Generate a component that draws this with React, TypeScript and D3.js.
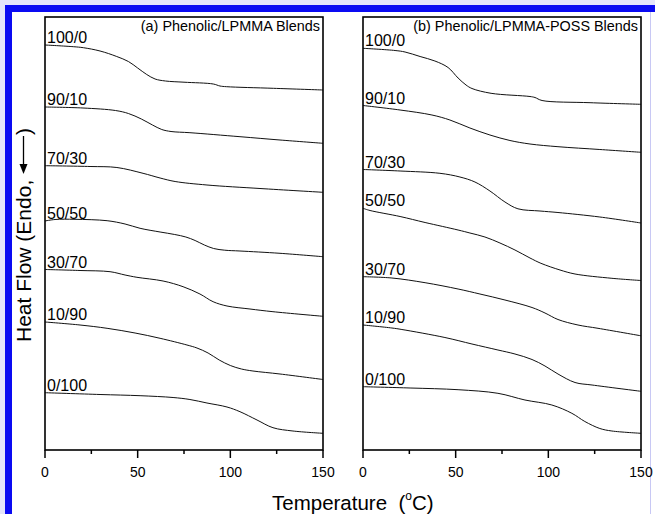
import React from "react";
import * as d3 from "d3";

// ---------- data (temperature °C, heat flow arbitrary units) ----------
const tempTicks = [0, 50, 100, 150];
const tempMinorTicks = [25, 75, 125];
const blendLabels = ["100/0", "90/10", "70/30", "50/50", "30/70", "10/90", "0/100"];
const panelTitles = ["(a) Phenolic/LPMMA Blends", "(b) Phenolic/LPMMA-POSS Blends"];

// Panel (a) Phenolic/LPMMA
const a100_0: [number, number][] = [[0, 40.5], [15.3, 40.33], [20.7, 40.23], [29.7, 39.9], [38.7, 39.35], [45, 38.85], [50, 38.2], [54.9, 37.55], [59.4, 37.1], [65, 36.9], [75, 36.78], [90.8, 36.6], [94.4, 36.4], [98, 36.33], [123.2, 36.17], [150, 36.0]];
const a90_10: [number, number][] = [[0, 34.3], [20.5, 34.2], [38, 33.95], [45, 33.65], [52, 33.1], [58, 32.5], [63, 32.05], [68, 31.85], [78.2, 31.73], [105.2, 31.33], [126.8, 31.0], [150, 30.67]];
const a70_30: [number, number][] = [[0, 28.43], [24.3, 28.35], [38.8, 28.25], [52.9, 27.67], [62.1, 27.2], [70.2, 26.85], [87.4, 26.5], [116, 26.15], [150, 25.77]];
const a50_50: [number, number][] = [[0, 22.9], [5.4, 23.05], [16.2, 23.07], [33.5, 22.93], [43.2, 22.6], [51.3, 22.17], [62.1, 21.8], [70, 21.55], [76, 21.3], [81, 20.95], [86, 20.5], [91, 20.15], [97, 19.98], [105.2, 19.9], [126.8, 19.67], [150, 19.33]];
const a30_70: [number, number][] = [[0, 18.05], [18.9, 17.95], [35.1, 17.83], [43.2, 17.5], [49.6, 17.27], [63.7, 16.9], [74.5, 16.33], [83.6, 15.6], [90.7, 14.83], [98.2, 14.4], [110.6, 14.1], [123, 13.83], [150, 13.37]];
const a10_90: [number, number][] = [[0, 12.8], [18.9, 12.5], [33.5, 12.17], [48.6, 11.7], [62.1, 11.17], [76.6, 10.5], [82, 10.2], [88, 9.7], [94, 9.0], [100, 8.45], [106, 8.1], [112.2, 7.9], [126.8, 7.6], [150, 7.05]];
const a0_100: [number, number][] = [[0, 5.73], [29.7, 5.55], [51.3, 5.43], [69.1, 5.25], [78.2, 5.05], [87.4, 4.7], [98.2, 4.3], [105.2, 3.83], [114.4, 3.0], [123, 2.23], [133.8, 1.9], [150, 1.67]];

// Panel (b) Phenolic/LPMMA-POSS
const b100_0: [number, number][] = [[0, 40.17], [17.3, 39.95], [22.7, 39.8], [30.8, 39.35], [38.8, 38.9], [45.9, 38.25], [51.3, 37.2], [55.6, 36.5], [58.8, 36.15], [69.1, 35.67], [90.1, 35.35], [92.8, 35.25], [96.6, 34.95], [122.5, 34.73], [150, 34.57]];
const b90_10: [number, number][] = [[0, 34.45], [20, 34.0], [37.2, 33.5], [46.9, 33.0], [57.7, 32.2], [68.5, 31.5], [79.3, 30.95], [90.1, 30.6], [105.2, 30.33], [127.8, 30.05], [150, 29.77]];
const b70_30: [number, number][] = [[0, 28.05], [20, 27.9], [41.5, 27.67], [52.3, 27.3], [60.4, 26.8], [68.5, 25.9], [76.6, 24.8], [83.6, 24.12], [95.5, 23.9], [105.2, 23.75], [127.8, 23.3], [150, 22.7]];
const b50_50: [number, number][] = [[0, 24.17], [3.8, 23.95], [20, 23.35], [33.5, 22.75], [51.3, 22.0], [57.7, 21.7], [65.8, 21.3], [73.9, 20.7], [82, 20.0], [90.1, 19.2], [96, 18.67], [106.3, 18.0], [114.4, 17.6], [134.3, 17.17], [150, 16.95]];
const b30_70: [number, number][] = [[0, 17.33], [15.6, 17.2], [33.5, 16.73], [51.3, 16.1], [63.1, 15.6], [76.6, 15.0], [91.2, 14.25], [98.2, 13.7], [105.2, 13.05], [116, 12.5], [126.8, 12.17], [150, 11.42]];
const b10_90: [number, number][] = [[0, 12.5], [15.6, 12.2], [21, 12.05], [44.2, 11.25], [58.8, 10.6], [72.8, 10.0], [82, 9.6], [91.2, 9.05], [98.2, 8.4], [105.2, 7.6], [114.4, 6.75], [123.6, 6.5], [150, 5.87]];
const b0_100: [number, number][] = [[0, 6.33], [25.4, 6.2], [51.3, 6.03], [72.8, 5.67], [87.4, 5.0], [101.9, 4.5], [112.7, 3.67], [119.7, 2.85], [127.8, 2.15], [134.3, 1.9], [150, 1.67]];

const seriesA = [a100_0, a90_10, a70_30, a50_50, a30_70, a10_90, a0_100];
const seriesB = [b100_0, b90_10, b70_30, b50_50, b30_70, b10_90, b0_100];

// ---------- layout ----------
const W = 655;
const H = 514;
const TOP = 17;
const BOTTOM = 450;
const FONT = "'Liberation Sans', Arial, Helvetica, sans-serif";

const yScale = d3.scaleLinear().domain([0, 43.3]).range([BOTTOM, TOP]);

function Panel({ x0, x1, series, title }: { x0: number; x1: number; series: [number, number][][]; title: string }) {
  const xScale = d3.scaleLinear().domain([0, 150]).range([x0, x1]);
  const line = d3
    .line<[number, number]>()
    .x((d) => xScale(d[0]))
    .y((d) => yScale(d[1]))
    .curve(d3.curveCatmullRom.alpha(0.5));
  return (
    <g>
      {series.map((s, i) => (
        <g key={i}>
          <path d={line(s) || ""} fill="none" stroke="#111" strokeWidth={1} />
          <text x={x0 + 2} y={yScale(s[0][1]) - 2} fontSize={16} fontFamily={FONT} fill="#000">
            {blendLabels[i]}
          </text>
        </g>
      ))}
      <text x={x1 - 3} y={31} fontSize={14.4} fontFamily={FONT} textAnchor="end" fill="#000">
        {title}
      </text>
      <rect x={x0} y={TOP} width={x1 - x0} height={BOTTOM - TOP} fill="none" stroke="#000" strokeWidth={1.6} />
      {tempTicks.map((t) => (
        <g key={"M" + t}>
          <line x1={xScale(t)} x2={xScale(t)} y1={BOTTOM} y2={BOTTOM + 8} stroke="#000" strokeWidth={1.5} />
          <text x={xScale(t)} y={477} fontSize={14} fontFamily={FONT} textAnchor="middle" fill="#000">
            {t}
          </text>
        </g>
      ))}
      {tempMinorTicks.map((t) => (
        <line key={"m" + t} x1={xScale(t)} x2={xScale(t)} y1={BOTTOM} y2={BOTTOM + 4} stroke="#000" strokeWidth={1.5} />
      ))}
    </g>
  );
}

export default function App() {
  return (
    <svg
      width={W}
      height={H}
      viewBox={`0 0 ${W} ${H}`}
      style={{ position: "absolute", left: 0, top: 0, display: "block" }}
    >
      {/* frame */}
      <rect x={0} y={0} width={W} height={H} fill="#e4e4fb" />
      <rect x={12} y={12} width={638} height={H - 12} fill="#ffffff" />
      <rect x={650} y={12} width={5} height={H - 12} fill="#ffffff" />
      <line x1={650.5} x2={650.5} y1={12} y2={H} stroke="#c8c8f4" strokeWidth={1} />
      <rect x={5} y={5} width={W - 5} height={7} fill="#0a0af2" />
      <rect x={5} y={5} width={7} height={H - 5} fill="#0a0af2" />

      <Panel x0={45} x1={323} series={seriesA} title={panelTitles[0]} />
      <Panel x0={363} x1={641} series={seriesB} title={panelTitles[1]} />

      {/* x title */}
      <text x={272} y={510} fontSize={20.5} fontFamily={FONT} fill="#000" style={{ whiteSpace: "pre" }}>
        {"Temperature  ("}
        <tspan fontSize={12} dy={-10}>o</tspan>
        <tspan dy={10}>{"C)"}</tspan>
      </text>

      {/* y title */}
      <g transform="translate(31,342) rotate(-90)">
        <text x={0} y={0} fontSize={21} fontFamily={FONT} fill="#000">
          Heat Flow (Endo,
        </text>
        <line x1={176} x2={206} y1={-7.5} y2={-7.5} stroke="#000" strokeWidth={1.3} />
        <path d="M168,-7.5 L178,-11.5 L178,-3.5 Z" fill="#000" />
        <text x={207} y={0} fontSize={21} fontFamily={FONT} fill="#000">
          )
        </text>
      </g>
    </svg>
  );
}
